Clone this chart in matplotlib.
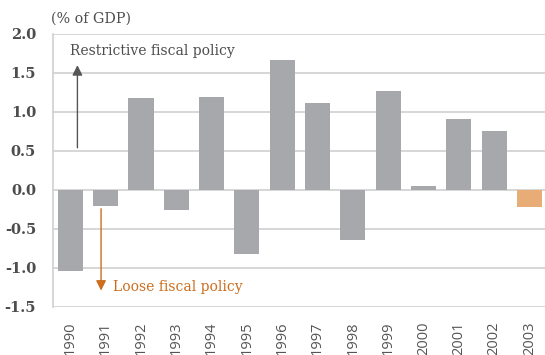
import matplotlib
matplotlib.use("Agg")
import matplotlib.pyplot as plt
import numpy as np

years = [str(y) for y in range(1990, 2004)]
values = [-1.04, -0.21, 1.18, -0.26, 1.19, -0.83, 1.66, 1.11, -0.65, 1.26, 0.04, 0.91, 0.75, -0.22]
colors = ["#A7A8AB"] * 13 + ["#E8AD77"]
yticks = [-1.5, -1.0, -0.5, 0.0, 0.5, 1.0, 1.5, 2.0]

fig = plt.figure(figsize=(5.45, 3.55), dpi=100)
ax = fig.add_axes([52.7/545, 1 - 306.7/355, (547 - 52.7)/545, (306.7 - 33.5)/355])
x = np.arange(len(years))
ax.bar(x, values, width=0.71, color=colors, zorder=3)
ax.set_xlim(-0.5, len(years) - 0.5)
ax.set_ylim(-1.5, 2.0)
ax.set_yticks(yticks)
ax.set_yticklabels([f"{v:.1f}" for v in yticks], family="DejaVu Serif", fontsize=10.5,
                   fontweight="bold", color="#4D4D4D")
ax.set_xticks(x)
ax.set_xticklabels(years, rotation=90, family="Open Sans", fontsize=10.5, color="#555555")
ax.tick_params(length=0, pad=12)
ax.tick_params(axis="x", pad=10.5)
ax.grid(axis="y", color="#D0D0D0", linewidth=1.2, zorder=0)
for s in ["top", "right", "bottom"]:
    ax.spines[s].set_visible(False)
ax.spines["left"].set_color("#D0D0D0")
ax.spines["left"].set_linewidth(1.2)

ax.text(-0.55, 2.1, "(% of GDP)", family="DejaVu Serif", fontsize=10.3,
        color="#4D4D4D", va="bottom", ha="left", clip_on=False)

ax.annotate("", xy=(0.2, 1.63), xytext=(0.2, 0.5),
            arrowprops=dict(arrowstyle="-|>,head_width=0.3,head_length=0.6", color="#555555", lw=1.0))
ax.text(0.0, 1.77, "Restrictive fiscal policy", family="DejaVu Serif", fontsize=10,
        color="#4D4D4D", va="center", ha="left")
ax.annotate("", xy=(0.87, -1.33), xytext=(0.87, -0.21),
            arrowprops=dict(arrowstyle="-|>,head_width=0.3,head_length=0.6", color="#CC6E1F", lw=1.0))
ax.text(1.2, -1.25, "Loose fiscal policy", family="DejaVu Serif", fontsize=10,
        color="#CC6E1F", va="center", ha="left")

fig.savefig("out.png", dpi=100)
